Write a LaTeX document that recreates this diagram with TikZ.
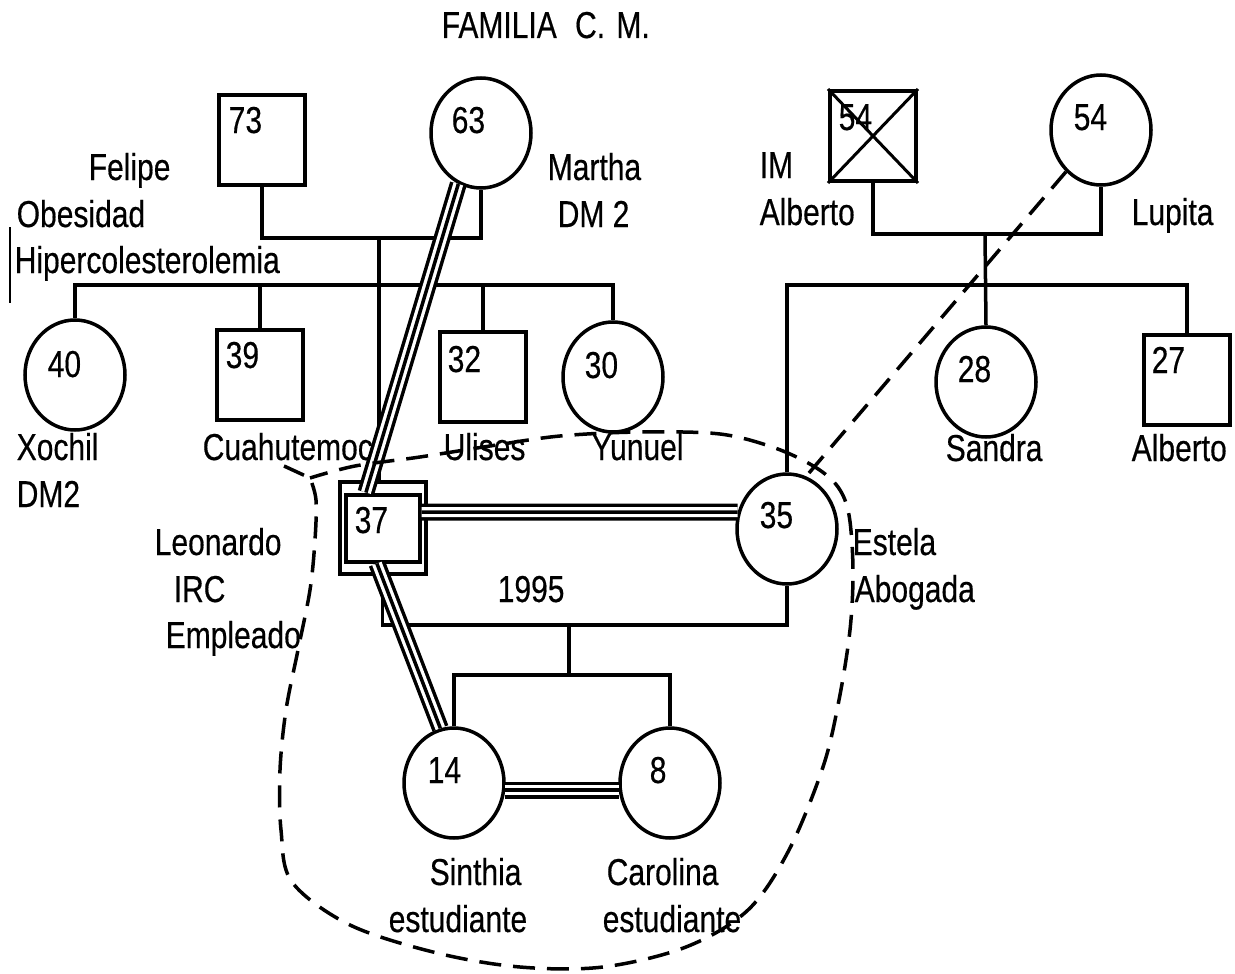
\documentclass[tikz,border=0pt]{standalone}
\usepackage{fontspec}
\setmainfont{Liberation Sans}[FakeStretch=0.8, FakeBold=0.4]
\usetikzlibrary{shapes.geometric}

\begin{document}
\begin{tikzpicture}[x=1pt, y=-1pt, line width=3.5pt,
    every node/.style={font=\fontsize{37.5}{45}\selectfont, inner sep=0pt},
    male/.style={draw, rectangle, line width=4pt, minimum width=86pt, minimum height=90pt},
    female/.style={draw, ellipse, line width=3.5pt, minimum width=100pt, minimum height=110pt},
    txt/.style={anchor=base west},
    triple/.style={line width=17pt, postaction={draw=white, line width=10pt}, postaction={draw=black, line width=3.5pt}},
    cut/.style={line width=3.5pt, dash pattern=on 22pt off 12pt}]
        \useasboundingbox (0,0) rectangle (1235,974);
        \node[txt] (title) at (440,38) {FAMILIA\hspace{10pt} C.\hspace{3pt} M.};
        % first generation
        \node[male] (s73) at (262,140) {};
        \node[female] (m63) at (481,133) {};
        \node[male] (a54) at (873,136) {};
        \node[female] (l54) at (1101,130) {};
        \draw[line width=3pt] (a54.north west) -- (a54.south east) (a54.north east) -- (a54.south west);
        \node[txt] (n73) at (227,133) {73};
        \node[txt] (n63) at (450,133) {63};
        \node[txt] (na54) at (837,130) {54};
        \node[txt] (nl54) at (1072,130) {54};
        \node[txt] (felipe) at (87,180) {Felipe};
        \node[txt] (obes) at (15,227) {Obesidad};
        \node[txt] (hiper) at (13,273) {Hipercolesterolemia};
        \draw[line width=1.5pt] (10,227) -- (10,303);
        \node[txt] (martha) at (546,180) {Martha};
        \node[txt] (dmm) at (556,227) {DM 2};
        \node[txt] (im) at (758,178) {IM};
        \node[txt] (alberto) at (758,225) {Alberto};
        \node[txt] (lupita) at (1130,225) {Lupita};
        % second generation
        \node[female] (c40) at (75,375) {};
        \node[male] (c39) at (260,375) {};
        \node[male] (c32) at (483,377) {};
        \node[female] (c30) at (613,377) {};
        \node[female] (c28) at (986,382) {};
        \node[male] (c27) at (1187,380) {};
        \node[txt] (n40) at (46,377) {40};
        \node[txt] (n39) at (224,368) {39};
        \node[txt] (n32) at (446,372) {32};
        \node[txt] (n30) at (583,378) {30};
        \node[txt] (n28) at (956,382) {28};
        \node[txt] (n27) at (1150,373) {27};
        \node[txt] (xochil) at (15,460) {Xochil};
        \node[txt] (dmx) at (15,507) {DM2};
        \node[txt] (cuah) at (201,460) {Cuahutemoc};
        \node[txt] (ulises) at (442,460) {Ulises};
        \node[txt] (yunuel) at (590,460) {Yunuel};
        \node[txt] (sandra) at (944,461) {Sandra};
        \node[txt] (alberto2) at (1130,461) {Alberto};
        \node[draw, rectangle, line width=4pt, minimum width=86pt, minimum height=92pt] (l37) at (382.5,527.5) {};
        \node[draw, rectangle, line width=4pt, minimum width=74pt, minimum height=67pt] (l37in) at (382.5,528) {};
        \node[female] (e35) at (787,529) {};
        \node[txt] (n37) at (353,533) {37};
        \node[txt] (n35) at (758,528) {35};
        \node[txt] (leo) at (153,555) {Leonardo};
        \node[txt] (irc) at (172,602) {IRC};
        \node[txt] (empl) at (164,648) {Empleado};
        \node[txt] (year) at (496,602) {1995};
        \node[txt] (estela) at (851,555) {Estela};
        \node[txt] (abog) at (853,602) {Abogada};
        % third generation
        \node[female] (s14) at (454,783) {};
        \node[female] (s8) at (670,783) {};
        \node[txt] (n14) at (426,783) {14};
        \node[txt] (n8) at (648,783) {8};
        \node[txt] (sinthia) at (428,885) {Sinthia};
        \node[txt] (est1) at (387,932) {estudiante};
        \node[txt] (carol) at (605,885) {Carolina};
        \node[txt] (est2) at (601,932) {estudiante};
        % unions and sibships
        \coordinate (fm) at (379,238);
        \coordinate (am) at (985,234);
        \coordinate (sibA) at (0,285);
        \coordinate (le) at (569,625);
        \coordinate (sibC) at (569,675);
        \draw (s73.south) |- (fm) -| (m63.south);
        \draw (fm) -- (fm |- l37.north);
        \draw (c40.north) |- (c30.north |- sibA) -- (c30.north);
        \draw (c39.north) -- (c39.north |- sibA);
        \draw (c32.north) -- (c32.north |- sibA);
        \draw (a54.south) |- (am) -| (l54.south);
        \draw (am) -- (c28.north);
        \draw (e35.north) |- (c27.north |- sibA) -- (c27.north);
        \draw (l37.south) |- (le) -| (e35.south);
        \draw (le) -- (sibC);
        \draw (s14.north) |- (sibC) -| (s8.north);
        % close relations
        \draw[triple] (m63.246) -- (l37in.115);
        \draw[triple] (l37in.261) -- (s14.104);
        \draw[triple] ([yshift=16pt]l37in.east) -- (e35.161);
        \draw[triple] (s14.-8) -- (s8.188);
        \draw[cut] (l54.230) -- (e35.70);
        % household
        \draw[cut] (284,466) -- plot[smooth, tension=0.55] coordinates {(310,478) (316,500) (315,540) (310,590) (298,650) (286,710) (280,770) (281,830) (292,882) (350,925) (437,953) (520,967) (603,967) (686,947) (748,910) (789,850) (823,767) (839,700) (850,630) (853,570) (849,515) (838,487) (815,467) (775,448) (720,434) (640,432) (560,436) (490,446) (420,457) (355,466) (310,478)};
    \end{tikzpicture}
\end{document}
